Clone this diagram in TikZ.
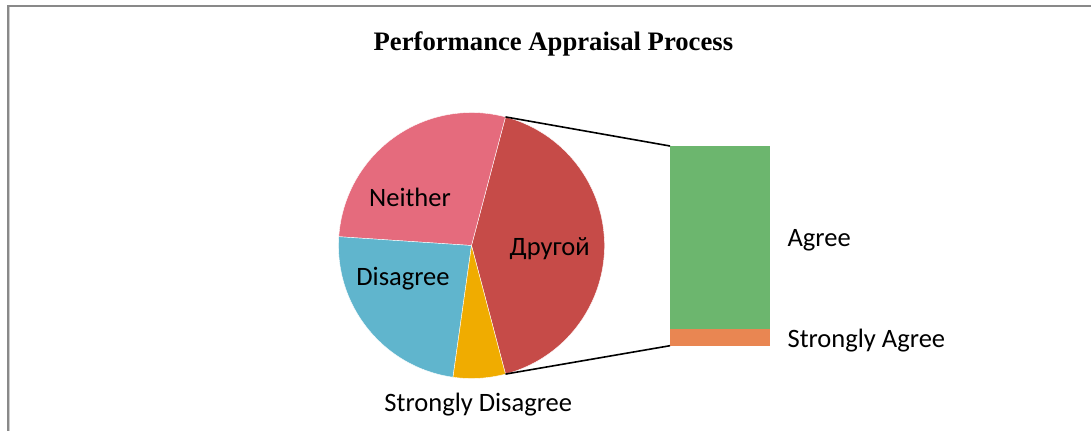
\documentclass[tikz,border=0pt]{standalone}
\usepackage{fontspec}
\usetikzlibrary{calc}
\setmainfont{Carlito}
\newfontfamily\titlefont{Liberation Serif}
\definecolor{frame}{RGB}{137,137,137}
\definecolor{framelight}{RGB}{205,205,205}
\definecolor{neither}{RGB}{229,107,125}
\definecolor{other}{RGB}{198,75,72}
\definecolor{disagree}{RGB}{96,181,205}
\definecolor{sdisagree}{RGB}{240,172,0}
\definecolor{agree}{RGB}{108,182,110}
\definecolor{sagree}{RGB}{233,134,82}
\tikzset{
  slice/.style={draw=white, line width=0.3pt},
  lbl/.style={inner sep=0pt, font=\fontsize{19.9}{23}\selectfont},
  barpart/.style={inner sep=0pt, outer sep=0pt, minimum width=75pt},
  link/.style={draw=black, line width=1.2pt},
}
\begin{document}
\begin{tikzpicture}[x=0.75pt, y=0.75pt]
  \useasboundingbox (0,0) rectangle (1091,430);
  \clip (0,0) rectangle (1091,430);
  % chart frame
  \draw[frame, line width=1.5pt] (8,-20) -- (8,424) -- (1120,424);
  \draw[framelight, line width=0.75pt] (9.8,-20) -- (9.8,423);
  % title
  \node[anchor=base, inner sep=0pt] (title) at (553.4,379.3)
    {\titlefont\fontsize{20}{24}\selectfont\bfseries Performance Appraisal Process};
  % pie
  \coordinate (c) at (471.5,184.5);
  \def\R{133}
  \fill[other, slice] (c) -- ($(c)+(-75.2:\R)$) arc[start angle=-75.2, end angle=75.2, radius=\R] -- cycle;
  \fill[neither, slice] (c) -- ($(c)+(75.2:\R)$) arc[start angle=75.2, end angle=176.2, radius=\R] -- cycle;
  \fill[disagree, slice] (c) -- ($(c)+(176.2:\R)$) arc[start angle=176.2, end angle=262, radius=\R] -- cycle;
  \fill[sdisagree, slice] (c) -- ($(c)+(262:\R)$) arc[start angle=262, end angle=284.8, radius=\R] -- cycle;
  \coordinate (pt) at ($(c)+(75.2:\R)$);
  \coordinate (pb) at ($(c)+(-75.2:\R)$);
  % bar of the split slice
  \node[barpart, fill=sagree, minimum height=12.3pt, anchor=south west] (sa) at (670,84.3) {};
  \node[barpart, fill=agree, minimum height=137.475pt, anchor=south west] (ag) at (sa.north west) {};
  % connectors
  \draw[link] (pt) -- (ag.north west);
  \draw[link] (pb) -- (sa.south west);
  % labels
  \node[lbl, anchor=base] (lneither) at (410,224) {Neither};
  \node[lbl, anchor=base] (lother) at (549.7,175) {Другой};
  \node[lbl, anchor=base] (ldis) at (403,145) {Disagree};
  \node[lbl, anchor=base] (lsd) at (478.3,19) {Strongly Disagree};
  \node[lbl, anchor=base west] (lag) at (787.3,183.3) {Agree};
  \node[lbl, anchor=base west] (lsa) at (787.3,83) {Strongly Agree};
\end{tikzpicture}
\end{document}
